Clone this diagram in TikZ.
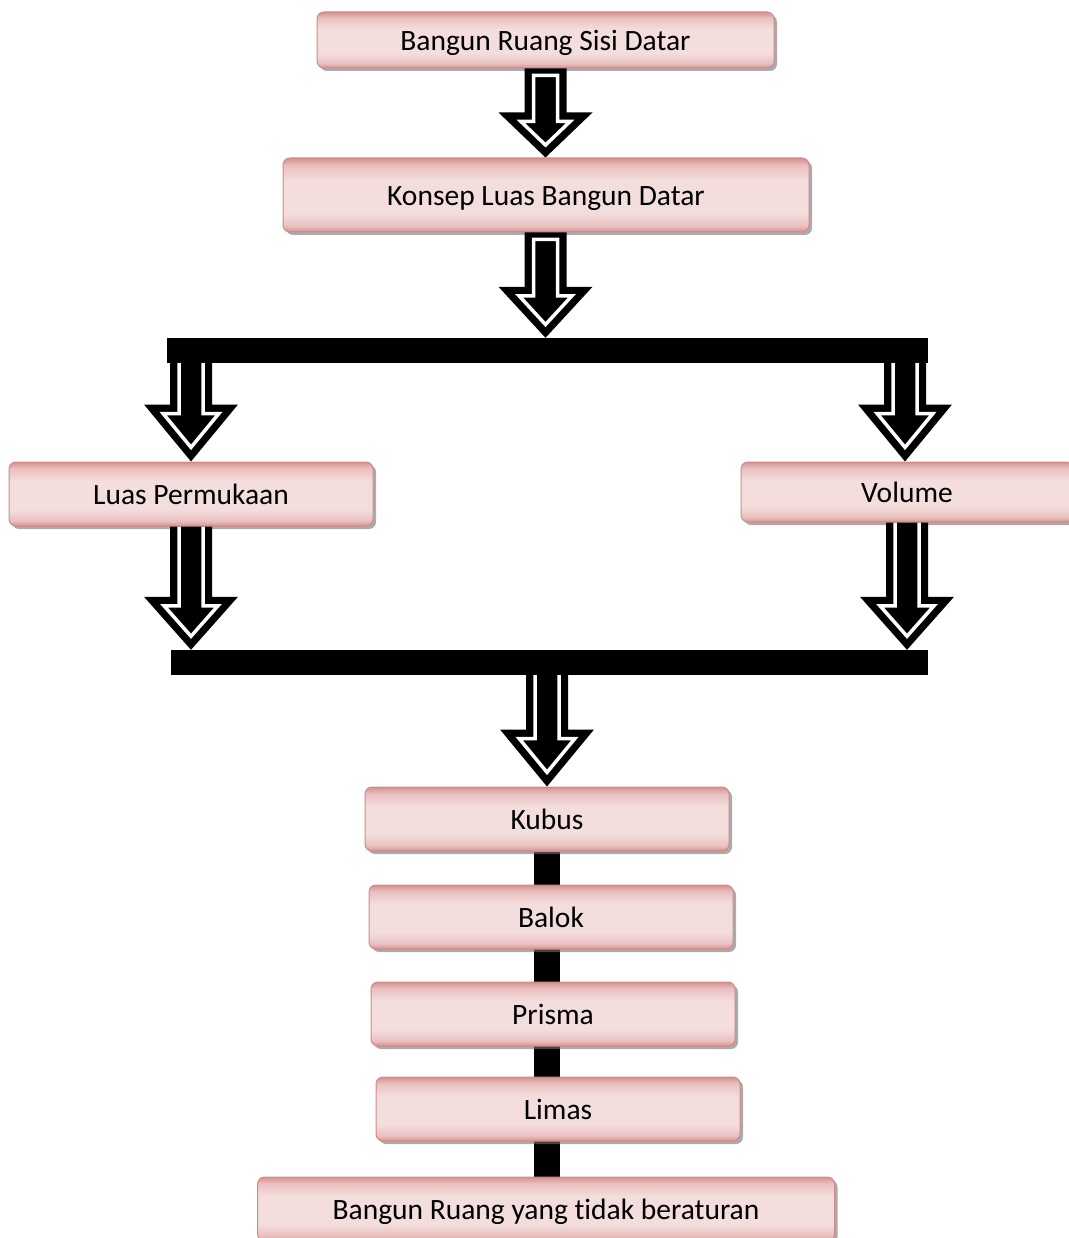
\documentclass[tikz,border=0pt]{standalone}
\usepackage{fontspec}
\setmainfont{Carlito}[Ligatures=NoCommon]
\usetikzlibrary{shadows,calc,backgrounds}
\definecolor{pinkL}{HTML}{F3DEDD}
\definecolor{pinkM}{HTML}{E9BFBE}
\definecolor{pinkD}{HTML}{D5908E}
\definecolor{pinkB}{HTML}{D08A88}
\pgfdeclareverticalshading{boxshade}{100bp}{color(0bp)=(pinkD); color(25bp)=(pinkD);
  color(29bp)=(pinkM); color(38bp)=(pinkL); color(60bp)=(pinkL); color(70bp)=(pinkM); color(75bp)=(pinkD); color(100bp)=(pinkD)}
\tikzset{
 box/.style={draw=pinkB, line width=1pt, rounded corners=7pt,
   shading=boxshade,
   drop shadow={shadow xshift=3pt, shadow yshift=-3pt, fill=black!55, opacity=0.6},
   font=\fontsize{29.5}{34}\selectfont, inner sep=0pt, text height=21pt, text depth=0pt},
 bar/.style={fill=black, inner sep=0pt, draw=none},
 vlink/.style={line width=26pt, black},
}
% #1 start, #2 end (tip), #3 head length, #4 inset of inner outline top, #5 closing
\newcommand\blkarrow[5]{%
 \pgfmathsetmacro\kk{47/#3}%
 \pgfmathsetmacro\ss{sqrt(1+\kk*\kk)}%
 \pgfmathsetmacro\bw{\kk*(#3-9)-9*\ss}%
 \pgfmathsetmacro\tp{9*\ss/\kk}%
 \pgfmathsetmacro\hl{#3-9}%
 \fill let \p1=(#1),\p2=(#2) in (\x1-21pt,\y1) -- (\x1+21pt,\y1) -- (\x1+21pt,\y2+#3pt)
   -- (\x1+47pt,\y2+#3pt) -- (\x1,\y2) -- (\x1-47pt,\y2+#3pt) -- (\x1-21pt,\y2+#3pt) -- cycle;
 \draw[white,line width=3.5pt,line join=miter] let \p1=(#1),\p2=(#2) in
   (\x1-12pt,\y1-#4pt) -- (\x1-12pt,\y2+\hl pt) -- (\x1-\bw pt,\y2+\hl pt) -- (\x1,\y2+\tp pt)
   -- (\x1+\bw pt,\y2+\hl pt) -- (\x1+12pt,\y2+\hl pt) -- (\x1+12pt,\y1-#4pt) #5;
}
\begin{document}
\begin{tikzpicture}[x=1pt,y=-1pt]
\useasboundingbox (0,0) rectangle (1068,1238);
% boxes
\node[box, minimum width=457pt, minimum height=56pt] (b1) at (545.5,40) {Bangun Ruang Sisi Datar};
\node[box, minimum width=526pt, minimum height=74pt] (b2) at (546,195) {Konsep Luas Bangun Datar};
\node[bar, minimum width=761pt, minimum height=25pt] (bar1) at (547.5,350.5) {};
\node[box, minimum width=364pt, minimum height=64pt] (lp) at (191,494) {Luas Permukaan};
\node[box, minimum width=332pt, minimum height=60pt] (vol) at (907,492) {Volume};
\node[bar, minimum width=757pt, minimum height=25pt] (bar2) at (549.5,662.5) {};
\node[box, minimum width=364pt, minimum height=64pt] (kub) at (547,819) {Kubus};
\node[box, minimum width=364pt, minimum height=64pt] (bal) at (551,917) {Balok};
\node[box, minimum width=364pt, minimum height=64pt] (pri) at (553,1014) {Prisma};
\node[box, minimum width=364pt, minimum height=64pt] (lim) at (558,1109) {Limas};
\node[box, minimum width=577pt, minimum height=64pt] (last) at (546,1209) {Bangun Ruang yang tidak beraturan};
% vertical links
\begin{scope}[on background layer]
\draw[vlink] (kub.south) -- (kub.south |- last.north);
\end{scope}
% block arrows
\blkarrow{b1.south -| b1}{b2.north -| b1}{45}{7}{-- cycle}
\blkarrow{b2.south -| b1}{bar1.north -| b1}{51}{7}{-- cycle}
\blkarrow{bar1.south -| lp}{lp.north}{57}{0}{}
\blkarrow{bar1.south -| 905,0}{lp.north -| 905,0}{57}{0}{}
\blkarrow{lp.south}{bar2.north -| lp}{53}{0}{}
\blkarrow{vol.south}{bar2.north -| vol}{53}{0}{}
\blkarrow{bar2.south -| kub}{kub.north}{57}{0}{}
\end{tikzpicture}
\end{document}
